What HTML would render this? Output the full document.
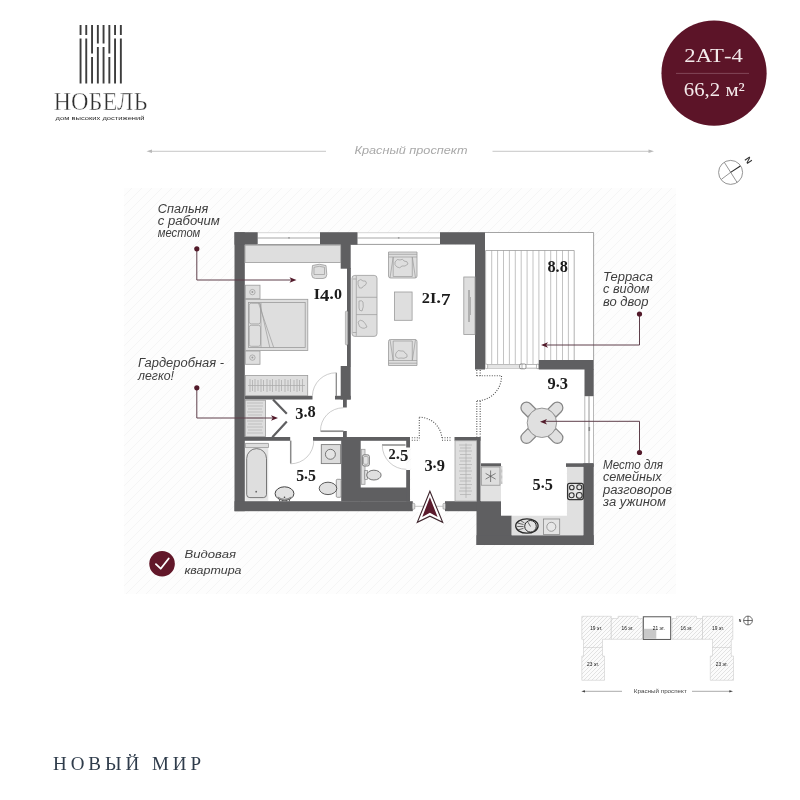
<!DOCTYPE html>
<html lang="ru">
<head>
<meta charset="utf-8">
<title>Нобель 2АТ-4</title>
<style>
html,body{margin:0;padding:0;background:#fff;}
body{width:800px;height:800px;overflow:hidden;font-family:"Liberation Sans",sans-serif;}
svg{display:block;will-change:transform;}
.sans{font-family:"Liberation Sans",sans-serif;}
.serif{font-family:"Liberation Serif",serif;}
.note{font-family:"Liberation Sans",sans-serif;font-style:italic;font-size:12px;fill:#3e3e3e;}
.lbl{font-family:"Liberation Serif",serif;font-weight:bold;font-size:16px;fill:#1c1c1c;}
.w{fill:#5f5f61;}
.f{fill:#dedede;stroke:#9b9b9b;stroke-width:0.8;}
.fl{fill:none;stroke:#9b9b9b;stroke-width:0.7;}
.arc{fill:none;stroke:#b8b8b8;stroke-width:0.7;}
.m{stroke:#5e3f4a;stroke-width:1;fill:none;}
.md{fill:#521a2a;}
</style>
</head>
<body>
<svg width="800" height="800" viewBox="0 0 800 800">
<defs>
<pattern id="hatch" width="10" height="10" patternUnits="userSpaceOnUse">
<path d="M-1 11 L11 -1 M-1 1 L1 -1 M9 11 L11 9" stroke="#f3f3f3" stroke-width="0.8" fill="none"/>
</pattern>
<pattern id="hatch2" width="4" height="4" patternUnits="userSpaceOnUse">
<rect width="4" height="4" fill="#fbfbfb"/>
<path d="M-1 5 L5 -1 M-1 1 L1 -1 M3 5 L5 3" stroke="#d4d4d4" stroke-width="0.650" fill="none"/>
</pattern>
</defs>
<rect width="800" height="800" fill="#ffffff"/>

<!-- ===== hatched site background ===== -->
<rect x="124" y="188" width="552" height="406" fill="#fdfdfd"/>
<rect x="124" y="188" width="552" height="406" fill="url(#hatch)"/>

<!-- ===== LOGO ===== -->
<g id="logo" fill="#3d3d3d">
<!-- bars 1,2,7,8 -->
<rect x="79.6" y="25" width="1.9" height="10"/><rect x="79.6" y="38.5" width="1.9" height="45"/>
<rect x="85.3" y="25" width="1.9" height="10"/><rect x="85.3" y="38.5" width="1.9" height="45"/>
<rect x="114.1" y="25" width="1.9" height="10"/><rect x="114.1" y="38.5" width="1.9" height="45"/>
<rect x="119.9" y="25" width="1.9" height="10"/><rect x="119.9" y="38.5" width="1.9" height="45"/>
<!-- bars 3,6 -->
<rect x="91.1" y="25" width="1.9" height="28.5"/><rect x="91.1" y="57" width="1.9" height="26.5"/>
<rect x="108.4" y="25" width="1.9" height="28.5"/><rect x="108.4" y="57" width="1.9" height="26.5"/>
<!-- bars 4,5 -->
<rect x="96.9" y="25" width="1.9" height="18.5"/><rect x="96.9" y="47" width="1.9" height="36.5"/>
<rect x="102.6" y="25" width="1.9" height="18.5"/><rect x="102.6" y="47" width="1.9" height="36.5"/>
</g>
<text id="t_nobel" class="serif" x="53.5" y="110" font-size="25" fill="#2e2e2e" stroke="#fff" stroke-width="0.45" textLength="94" lengthAdjust="spacingAndGlyphs">НОБЕЛЬ</text>
<text id="t_sub" class="sans" x="55.5" y="120.2" font-size="6.2" fill="#2a2a2a" textLength="89" lengthAdjust="spacingAndGlyphs">дом высоких достижений</text>

<!-- ===== BADGE ===== -->
<circle cx="714.050" cy="73.150" r="52.600" fill="#5c1428"/>
<line x1="676" y1="73.400" x2="749" y2="73.400" stroke="#8c5464" stroke-width="0.8"/>
<text id="t_b1" class="serif" x="684.300" y="62" font-size="18.800" fill="#f3e9ea" textLength="58.500" lengthAdjust="spacingAndGlyphs">2АТ-4</text>
<text id="t_b2" class="serif" x="683.800" y="95.600" font-size="18.800" fill="#f3e9ea" textLength="61" lengthAdjust="spacingAndGlyphs">66,2 м²</text>

<!-- ===== compass ===== -->
<g stroke="#7a7a7a" stroke-width="0.8" fill="none">
<circle cx="730.6" cy="172.4" r="12"/>
<line x1="721.4" y1="179.3" x2="730.6" y2="172.4"/>
<line x1="724.3" y1="162.3" x2="737.2" y2="182.6"/>
</g>
<line x1="730.6" y1="172.4" x2="740.4" y2="166" stroke="#2a2a2a" stroke-width="1.1"/>
<text class="sans" x="0" y="0" font-size="8.500" font-weight="bold" fill="#333" transform="translate(744.200,159.200) rotate(57)">N</text>

<!-- ===== street label ===== -->
<g stroke="#b9b9b9" stroke-width="0.8" fill="#b9b9b9">
<line x1="149" y1="151.3" x2="326" y2="151.3"/>
<path d="M146.5 151.3 L152 149.5 L152 153.1 Z" stroke="none"/>
<line x1="492.5" y1="151.3" x2="651" y2="151.3"/>
<path d="M654 151.3 L648.5 149.5 L648.5 153.1 Z" stroke="none"/>
</g>
<text id="t_street" class="sans" x="354.5" y="153.8" font-size="11.5" font-style="italic" fill="#a9a9a9" textLength="113" lengthAdjust="spacingAndGlyphs">Красный проспект</text>

<!-- ===== PLAN ===== -->
<g id="plan">
<!-- interior white floor -->
<path d="M245 244.7 H476 V369 H584.5 V463.5 H566.5 V516 H501.3 V501.3 H476 V440.7 H454.5 V501.3 H411.3 V440.7 H341.2 V501.3 H245 Z" fill="#ffffff"/>
<rect x="360.7" y="440.7" width="45.6" height="46.8" fill="#ffffff"/>
<!-- terrace floor -->
<rect x="485" y="232" width="108.7" height="128" fill="#ffffff"/>
<rect x="485" y="359" width="54" height="10.500" fill="#ffffff"/>
<rect x="411" y="501" width="36" height="11" fill="#fff"/>

<!-- terrace outline + planks -->
<g stroke="#7d7d7d" stroke-width="0.7" fill="none">
<path d="M485 232.500 H593.600 V360"/>
</g>
<g stroke="#a9a9a9" stroke-width="0.700" fill="none">
<path d="M491.700 250.500V364M497.600 250.500V364M503.500 250.500V364M509.400 250.500V364M515.300 250.500V364M521.200 250.500V364M527.100 250.500V364M533 250.500V364M538.900 250.500V360M544.800 250.500V360M550.700 250.500V360M556.600 250.500V360M562.500 250.500V360M568.400 250.500V360"/>
<path d="M485.600 364 V250.500 H574.200 V360" stroke="#8f8f8f"/>
</g>

<!-- windows -->
<rect x="257" y="232.500" width="64" height="12.300" fill="#fff"/><rect x="357" y="232.500" width="84" height="12.300" fill="#fff"/><rect x="584.500" y="396" width="9.200" height="67.500" fill="#fff"/>
<g stroke="#b4b4b4" stroke-width="0.700" fill="none">
<path d="M257.700 232.700H320M357.500 232.700H440" stroke="#c4c4c4"/>
<path d="M257.700 244.500H320M350.700 244.400H440" stroke="#9c9c9c" stroke-width="1"/>
<path d="M257.700 238H320M357.500 238H440" stroke-width="1.100" stroke="#a8a8a8"/>
<path d="M584.800 396.200V463M593.500 396.200V463" stroke="#9a9a9a"/>
<path d="M589 396.200V463" stroke="#8a8a8a" stroke-width="0.900"/>
<path d="M487 364.500H539M487 368.200H539" stroke="#9a9a9a"/>
</g>
<rect x="487" y="364.900" width="33" height="2.900" fill="#e4e4e4"/>
<rect x="519.600" y="364" width="6.400" height="4.800" rx="1.500" fill="#fff" stroke="#666" stroke-width="0.700"/>
<path d="M522 364V368.800" stroke="#666" stroke-width="0.500"/>
<rect x="536.500" y="364.200" width="2.500" height="4.400" rx="0.800" fill="#fff" stroke="#777" stroke-width="0.500"/>
<rect x="485.200" y="364.200" width="2.400" height="4.400" rx="1" fill="#fff" stroke="#777" stroke-width="0.500"/>
<circle cx="289" cy="237.800" r="0.900" fill="#999"/><circle cx="398.700" cy="237.800" r="0.900" fill="#999"/>

<!-- walls -->
<g class="w">
<rect x="234.5" y="232.2" width="10.3" height="279"/>
<rect x="234.5" y="232.2" width="23.2" height="12.5"/>
<rect x="320" y="232.2" width="37.5" height="12.5"/>
<rect x="340.7" y="244" width="10" height="24.7"/>
<rect x="347" y="268" width="3.8" height="98.5"/>
<rect x="340.7" y="366" width="10" height="33.5"/>
<rect x="245" y="395.8" width="67.5" height="3.7"/>
<rect x="335" y="395.8" width="15.7" height="3.7"/>
<rect x="343" y="399" width="3.8" height="8.5"/>
<rect x="343" y="431" width="3.8" height="6.5"/>
<rect x="244" y="437" width="46.200" height="3.8"/>
<rect x="313" y="437" width="97" height="3.8"/>
<rect x="341.2" y="437" width="19.5" height="64.5"/>
<rect x="360" y="487.5" width="50" height="14"/>
<rect x="406.2" y="437" width="3.8" height="10.5"/>
<rect x="406.2" y="470" width="3.8" height="31.5"/>
<rect x="234.5" y="501.2" width="178.3" height="10"/>
<rect x="440" y="232.2" width="45" height="12.3"/>
<rect x="475" y="244" width="10" height="125.5"/>
<rect x="538.7" y="360" width="55" height="9.5"/>
<rect x="584.5" y="369" width="9.2" height="27.2"/>
<rect x="454.5" y="437" width="26" height="3.8"/>
<rect x="476.5" y="437" width="4" height="64.5"/>
<rect x="445" y="501.2" width="56" height="10"/>
<rect x="476.5" y="501.2" width="24.5" height="43.8"/>
<rect x="500" y="515.7" width="11.7" height="29.3"/>
<rect x="476.5" y="535.2" width="117.2" height="9.8"/>
<rect x="583.3" y="463.3" width="10.4" height="81.7"/>
<rect x="566" y="463.3" width="27.7" height="3.6"/>
<rect x="481" y="463.3" width="20" height="3.3"/>
</g>
<!-- entrance threshold -->
<rect x="412.300" y="503.300" width="2.500" height="6" rx="1.100" fill="#ddd" stroke="#777" stroke-width="0.500"/>
<rect x="443" y="503.300" width="2.500" height="6" rx="1.100" fill="#ddd" stroke="#777" stroke-width="0.500"/>
<line x1="414.800" y1="506.300" x2="443" y2="506.300" stroke="#b5b5b5" stroke-width="0.800"/>
<!-- ===== bedroom ===== -->
<rect class="f" x="245" y="245.200" width="95.7" height="17.300"/>
<!-- desk chair -->
<path class="f" d="M312.5 265.5 Q319.2 263 326 265.5 L326.8 274.5 Q326.8 278.5 323 278.5 H315.5 Q311.7 278.5 311.7 274.5 Z"/>
<path class="fl" d="M314 267.3 Q319.2 265.3 324.5 267.3 V274.5 H314 Z"/>
<!-- nightstands -->
<rect class="f" x="245.3" y="285.2" width="14.7" height="13.5"/>
<rect class="f" x="245.3" y="351" width="14.7" height="13.3"/>
<circle class="fl" cx="252.4" cy="292.1" r="2.7"/><circle cx="252.4" cy="292.1" r="1" fill="#9b9b9b"/>
<circle class="fl" cx="252.4" cy="357.6" r="2.7"/><circle cx="252.4" cy="357.6" r="1" fill="#9b9b9b"/>
<!-- bed -->
<rect class="f" x="245.3" y="299.3" width="62.5" height="51.3" fill="#e3e3e3"/>
<rect class="f" x="248.4" y="302.5" width="56.8" height="45" fill="#dbdbdb"/>
<rect class="fl" x="249.2" y="303.3" width="11.3" height="20.6" rx="2"/>
<rect class="fl" x="249.2" y="325.3" width="11.3" height="21" rx="2"/>
<path class="fl" d="M258.5 303 L273.7 347.5 M259.8 303 L269.8 347.5 M261 303V347.5"/>
<!-- wardrobe -->
<rect class="f" x="245.3" y="375.4" width="62.4" height="20.3"/>
<g stroke="#a8a8a8" stroke-width="0.7" fill="none">
<path d="M248 385.5H305"/>
<path d="M250 379v13M252.5 380v11M255 379v13M258 380v11M261 379v13M263.5 380v11M267 379v13M270 380v11M272.5 379v13M276 380v11M279 379v13M281.5 380v11M285 379v13M288 380v11M290.5 379v13M294 380v11M297 379v13M299.5 380v11M302.5 379v13"/>
</g>
<!-- bedroom door -->
<path d="M336.3 372.8V396" stroke="#8a8a8a" stroke-width="1.3" fill="none"/>
<path d="M312.4 395.8 A23.6 23.6 0 0 1 336.3 372.8" class="arc"/>
<!-- sliding element on wall -->
<rect x="345.4" y="311" width="2.4" height="34" rx="1.2" fill="#cfcfcf" stroke="#8a8a8a" stroke-width="0.5"/>

<!-- ===== dressing 3.8 ===== -->
<rect class="f" x="245.3" y="400.2" width="20.2" height="36.4"/>
<g stroke="#a8a8a8" stroke-width="0.6" fill="none">
<path d="M247 403h16M247 406h16M248 409h14M247 412h16M248 415h14M247 418h16M247 421h16M248 424h14M247 427h16M248 430h14M247 433h16"/>
</g>
<path d="M273 399.4L286.8 413.8M286.8 421.4L272.3 437.2" stroke="#5f5f61" stroke-width="2.200" fill="none"/>
<path d="M320.5 431.2H343.5" stroke="#8f8f8f" stroke-width="1.700" fill="none"/>
<path d="M320.5 431 A22.8 22.8 0 0 1 343.2 407.8" class="arc"/>

<!-- ===== bathroom 5.5 ===== -->
<rect x="245.3" y="442.6" width="23" height="58.2" fill="#e6e6e6"/>
<rect class="f" x="245.3" y="443.6" width="23.2" height="3.8"/>
<path d="M246.7 458.5 A9.9 9.9 0 0 1 266.5 458.5 V494.5 Q266.5 497.6 263.4 497.6 H249.8 Q246.7 497.6 246.7 494.5 Z" fill="#dedede" stroke="#5c5c5c" stroke-width="0.8"/>
<circle cx="256.2" cy="491.7" r="0.9" fill="#666"/>
<path d="M290.7 440.6V463.6" stroke="#8a8a8a" stroke-width="1.5" fill="none"/>
<path d="M290.7 463.8 A23.2 23.2 0 0 0 313.8 440.6" class="arc"/>
<rect x="321.3" y="444.6" width="19.3" height="19" fill="#dcdcdc" stroke="#7d7d7d" stroke-width="0.9"/>
<circle cx="330.4" cy="454.3" r="5" fill="#e4e4e4" stroke="#5c5c5c" stroke-width="0.8"/>
<rect x="336.3" y="479.3" width="4.8" height="18" rx="1" fill="#e4e4e4" stroke="#777" stroke-width="0.7"/>
<ellipse cx="328" cy="488.400" rx="8.800" ry="6.200" fill="#e0e0e0" stroke="#4a4a4a" stroke-width="0.900"/>
<ellipse cx="284.5" cy="493.6" rx="9.4" ry="6.8" fill="#e2e2e2" stroke="#444" stroke-width="1"/>
<path d="M277.8 497 Q284.5 501.5 291.3 497" fill="none" stroke="#555" stroke-width="0.7"/>
<circle cx="284.5" cy="497.3" r="0.8" fill="#444"/>
<path d="M279.5 499.6v1.6M282.5 500.2v1M286.5 500.2v1M289.5 499.6v1.6" stroke="#444" stroke-width="0.8"/>

<!-- ===== WC 2.5 ===== -->
<rect class="f" x="361.3" y="449.3" width="3.7" height="35"/>
<rect x="362.4" y="454.8" width="7" height="11.2" rx="1.8" fill="#e2e2e2" stroke="#666" stroke-width="0.8"/>
<rect x="363.5" y="456.5" width="4.6" height="7.8" rx="1.2" fill="none" stroke="#8a8a8a" stroke-width="0.6"/>
<rect x="364.8" y="470.6" width="2.6" height="9" fill="#e2e2e2" stroke="#777" stroke-width="0.6"/>
<ellipse cx="373.9" cy="475.1" rx="7.2" ry="4.9" fill="#e0e0e0" stroke="#555" stroke-width="0.8"/>
<path d="M382 445H405.5" stroke="#8a8a8a" stroke-width="1.5" fill="none"/>
<path d="M382.3 445.5 A24 24 0 0 0 406.4 469.3" class="arc"/>

<!-- ===== hall closet ===== -->
<rect x="455" y="440.8" width="21.7" height="60.3" fill="#dedede" stroke="#9b9b9b" stroke-width="0.7"/>
<g stroke="#b0b0b0" stroke-width="0.7" fill="none">
<path d="M466 443.5V498"/>
<path d="M459 445h13M460 448h11M459 451h13M460 454.500h11M459 458h13M460 461h11M459 464.500h13M460 468h11M459 471h13M460 474.500h11M459 478h13M460 481h11M459 484.500h13M460 488h11M459 491h13M460 494.500h11"/>
</g>

<!-- ===== living room ===== -->
<!-- sofa -->
<rect class="f" x="352" y="275.4" width="25" height="61" rx="2.8"/>
<path class="fl" d="M356.3 276V335.8M356.3 297.3H377M356.3 314.6H377M352.8 279H356.3M352.8 332.5H356.3"/>
<path class="fl" d="M358 281 q3 -3 5 0 q3 -1 3.500 2 q-1 3 -3 3 q-1 3 -4 2 q-2 -3 -1.500 -7z M359 301 q3 -1 4 1 q1 5 -1 9 q-3 0 -3 -3z M358 322 q2 -3 5 -1 q3 3 4 6 q-3 2 -5 1 q-3 0 -4 -6z"/>
<!-- armchair top -->
<path class="f" d="M388.500 252 H417 V276 Q417 278 415 278 H390.500 Q388.500 278 388.500 276 Z"/>
<path class="fl" d="M388.500 254.300H417M393.200 257 V276.500 H412.300 V257 M388.500 257 H417 M393.200 257 L390 278 M412.300 257 L415.500 278"/>
<path class="fl" d="M395 262 q2 -4 5 -2 q3 -2 4 1 q4 0 4 3 q-3 3 -6 2 q-2 3 -5 1 q-3 -2 -2 -5z"/>
<!-- coffee table -->
<rect class="f" x="394.500" y="292" width="17.600" height="28.300"/>
<!-- armchair bottom -->
<path class="f" d="M388.500 365.500 H417 V341.500 Q417 339.500 415 339.500 H390.500 Q388.500 339.500 388.500 341.500 Z"/>
<path class="fl" d="M388.500 363.200H417M393.200 360.500 V341 H412.300 V360.500 M388.500 360.500 H417 M393.200 360.500 L390 339.500 M412.300 360.500 L415.500 339.500"/>
<path class="fl" d="M396 353 q2 -4 5 -2 q3 -1 4 2 q3 1 2 4 q-3 2 -6 1 q-3 1 -5 -1 q-1 -2 0 -4z"/>
<!-- TV unit -->
<rect class="f" x="463.800" y="277" width="11.200" height="57.500"/>
<path d="M469 290V322" stroke="#8a8a8a" stroke-width="1.100" fill="none"/>
<path class="fl" d="M470.500 297V315"/>

<!-- ===== dining ===== -->
<g fill="#e0e0e0" stroke="#858585" stroke-width="1.250">
<path transform="translate(527.6 408.800) rotate(-45)" d="M-5.600 6 V-1.500 A5.600 5.600 0 0 1 5.600 -1.500 V6 Z"/>
<path transform="translate(556.200 408.800) rotate(45)" d="M-5.600 6 V-1.500 A5.600 5.600 0 0 1 5.600 -1.500 V6 Z"/>
<path transform="translate(527.600 436.800) rotate(-135)" d="M-5.600 6 V-1.500 A5.600 5.600 0 0 1 5.600 -1.500 V6 Z"/>
<path transform="translate(556.200 436.800) rotate(135)" d="M-5.600 6 V-1.500 A5.600 5.600 0 0 1 5.600 -1.500 V6 Z"/>
<circle cx="541.900" cy="422.800" r="14.700" fill="#e0e0e0" stroke="#8f8f8f" stroke-width="0.9"/>
</g>

<!-- ===== kitchen ===== -->
<rect x="481" y="466.600" width="20" height="34.700" fill="#e2e2e2"/>
<rect x="481.300" y="467" width="18.700" height="18.200" fill="#dedede" stroke="#8a8a8a" stroke-width="0.7"/>
<path d="M490.600 470.500V482M485.600 473.400L495.600 479.100M485.600 479.100L495.600 473.400" stroke="#555" stroke-width="0.7" fill="none"/>
<path d="M501.800 466.500V484.500" stroke="#666" stroke-width="0.9" stroke-dasharray="0.600 0.600" fill="none"/>
<path d="M511.700 515.800 H567 V467 H583.300 V535.300 H511.700 Z" fill="#e0e0e0"/>
<rect x="567.600" y="483.300" width="15.700" height="16.300" rx="2" fill="#e6e6e6" stroke="#333" stroke-width="1.300"/>
<g fill="#e6e6e6" stroke="#333" stroke-width="1.100">
<circle cx="571.800" cy="487.500" r="2.300"/><circle cx="579.300" cy="487.300" r="2.500"/>
<circle cx="571.600" cy="495.300" r="2.500"/><circle cx="579.300" cy="495.400" r="2.900"/>
</g>
<ellipse cx="526.900" cy="526" rx="11.200" ry="7.200" fill="#e0e0e0" stroke="#2a2a2a" stroke-width="1.300"/>
<circle cx="530.500" cy="526.300" r="5.800" fill="#e4e4e4" stroke="#2a2a2a" stroke-width="1"/>
<path d="M517.500 523L523.500 524.500M517.200 526.500H523.500M518 530L523.500 528.300M520.500 520.500L524.500 523M527.500 521.500 L530.500 526.500" stroke="#333" stroke-width="0.7" fill="none"/>
<rect x="543.500" y="519" width="16.200" height="15.600" fill="#e4e4e4" stroke="#8a8a8a" stroke-width="0.8"/>
<circle cx="551.300" cy="526.800" r="4.500" fill="#e8e8e8" stroke="#8a8a8a" stroke-width="0.8"/>

<!-- ===== dotted swing doors ===== -->
<g stroke="#505050" stroke-width="1.100" stroke-dasharray="1 1.500" fill="none">
<path d="M476.800 370V376M480.200 370V376M476.800 375.800H501"/>
<path d="M501.500 376 A24.500 24.500 0 0 1 477 400.800"/>
<path d="M476.800 401V436.500M480.200 401V436.500"/>
<path d="M419.300 417.500V439.500M411.800 437.800H419.500M411.800 440.200H419.500"/>
<path d="M419.300 417.300 A22.500 22.500 0 0 1 442 439.500"/>
<path d="M442 437.800H451M442 440.200H451"/>
</g>
<path d="M589.300 427v4" stroke="#8a8a8a" stroke-width="1.600"/>

<!-- ===== room labels ===== -->
<text id="l1" class="lbl" x="313.7" y="298.9" textLength="28.3" lengthAdjust="spacingAndGlyphs"><tspan y="298.9" font-size="14.4">I</tspan><tspan y="301.1" font-size="16.8">4</tspan><tspan y="298.9" font-size="16.8">.</tspan><tspan y="298.9" font-size="14.4">0</tspan></text>
<text id="l2" class="lbl" x="421.8" y="302.5" textLength="28.8" lengthAdjust="spacingAndGlyphs"><tspan y="302.5" font-size="14.4">2</tspan><tspan y="302.5" font-size="14.4">I</tspan><tspan y="302.5" font-size="16.8">.</tspan><tspan y="304.7" font-size="16.8">7</tspan></text>
<text id="l3" class="lbl" x="547.5" y="272" textLength="20.3" lengthAdjust="spacingAndGlyphs"><tspan y="272" font-size="16.8">8</tspan><tspan y="272" font-size="16.8">.</tspan><tspan y="272" font-size="16.8">8</tspan></text>
<text id="l4" class="lbl" x="547.5" y="386.6" textLength="20.5" lengthAdjust="spacingAndGlyphs"><tspan y="388.8" font-size="16.8">9</tspan><tspan y="386.6" font-size="16.8">.</tspan><tspan y="388.8" font-size="16.8">3</tspan></text>
<text id="l5" class="lbl" x="295.2" y="416.6" textLength="20.5" lengthAdjust="spacingAndGlyphs"><tspan y="418.8" font-size="16.8">3</tspan><tspan y="416.6" font-size="16.8">.</tspan><tspan y="416.6" font-size="16.8">8</tspan></text>
<text id="l6" class="lbl" x="296.2" y="479" textLength="19.8" lengthAdjust="spacingAndGlyphs"><tspan y="481.2" font-size="16.8">5</tspan><tspan y="479" font-size="16.8">.</tspan><tspan y="481.2" font-size="16.8">5</tspan></text>
<text id="l7" class="lbl" x="388.6" y="459" textLength="19.8" lengthAdjust="spacingAndGlyphs"><tspan y="459" font-size="14.4">2</tspan><tspan y="459" font-size="16.8">.</tspan><tspan y="461.2" font-size="16.8">5</tspan></text>
<text id="l8" class="lbl" x="424.4" y="468.4" textLength="20.5" lengthAdjust="spacingAndGlyphs"><tspan y="470.6" font-size="16.8">3</tspan><tspan y="468.4" font-size="16.8">.</tspan><tspan y="470.6" font-size="16.8">9</tspan></text>
<text id="l9" class="lbl" x="532.6" y="487.8" textLength="20.3" lengthAdjust="spacingAndGlyphs"><tspan y="490.0" font-size="16.8">5</tspan><tspan y="487.8" font-size="16.8">.</tspan><tspan y="490.0" font-size="16.8">5</tspan></text>

<!-- ===== entrance arrow ===== -->
<path d="M429.900 491.300 L442.700 522.300 L429.900 516.200 L417.300 522.300 Z" fill="#fff" stroke="#3f262e" stroke-width="1.100" stroke-linejoin="miter"/>
<path d="M429.900 497.200 L437.600 517 L429.900 512.800 L422.200 517 Z" fill="#5a1a2c"/>
</g>


<!-- ===== annotations ===== -->
<g class="note">
<text id="n1a" x="157.800" y="212.500" textLength="50.500" lengthAdjust="spacingAndGlyphs">Спальня</text>
<text id="n1b" x="157.800" y="224.600" textLength="62" lengthAdjust="spacingAndGlyphs">с рабочим</text>
<text id="n1c" x="157.800" y="236.600" textLength="42.500" lengthAdjust="spacingAndGlyphs">местом</text>
<text id="n2a" x="138" y="367" textLength="86" lengthAdjust="spacingAndGlyphs">Гардеробная -</text>
<text id="n2b" x="138" y="379.800" textLength="36" lengthAdjust="spacingAndGlyphs">легко!</text>
<text id="n3a" x="603" y="281.200" textLength="50" lengthAdjust="spacingAndGlyphs">Терраса</text>
<text id="n3b" x="603" y="293.300" textLength="46.500" lengthAdjust="spacingAndGlyphs">с видом</text>
<text id="n3c" x="603" y="305.600" textLength="45.500" lengthAdjust="spacingAndGlyphs">во двор</text>
<text id="n4a" x="603" y="469.200" textLength="60" lengthAdjust="spacingAndGlyphs">Место для</text>
<text id="n4b" x="603" y="481.300" textLength="58.500" lengthAdjust="spacingAndGlyphs">семейных</text>
<text id="n4c" x="603" y="493.700" textLength="69" lengthAdjust="spacingAndGlyphs">разговоров</text>
<text id="n4d" x="603" y="505.600" textLength="63" lengthAdjust="spacingAndGlyphs">за ужином</text>
<text id="n5a" x="184.500" y="558" textLength="51.500" lengthAdjust="spacingAndGlyphs" font-size="11.500">Видовая</text>
<text id="n5b" x="184.500" y="574" textLength="57" lengthAdjust="spacingAndGlyphs" font-size="11.500">квартира</text>
</g>
<!-- leader lines -->
<g class="m">
<path d="M196.800 248.800V280H292"/>
<path d="M196.800 387.800V418H274"/>
<path d="M639.500 314V345H545"/>
<path d="M639.500 452.500V421.300H545"/>
</g>
<g class="md">
<circle cx="196.800" cy="248.800" r="2.600"/>
<circle cx="196.800" cy="387.800" r="2.600"/>
<circle cx="639.500" cy="314" r="2.600"/>
<circle cx="639.500" cy="452.500" r="2.600"/>
<path d="M296.500 280 L289.500 277.200 L291.300 280 L289.500 282.800 Z"/>
<path d="M278 418 L271 415.200 L272.800 418 L271 420.800 Z"/>
<path d="M541 345 L548 342.200 L546.200 345 L548 347.800 Z"/>
<path d="M540 421.800 L547 419 L545.200 421.800 L547 424.600 Z"/>
</g>
<!-- check badge -->
<circle cx="162.050" cy="563.800" r="12.800" fill="#621729"/>
<path d="M155.900 564.100 L160.700 568.700 L168.700 558.500" stroke="#fff" stroke-width="1.800" fill="none" stroke-linecap="round" stroke-linejoin="round"/>


<!-- ===== mini site plan ===== -->
<g id="mini">
<g fill="url(#hatch2)" stroke="#c4c4c4" stroke-width="0.500">
<path d="M581.800 616.300 H611.300 V639.300 H602.500 V656 H604.500 V680.300 H581.800 V656 H583.500 V639.300 H581.800 Z"/>
<path d="M583.500 647.500H602.500" fill="none"/>
<path d="M611.300 618.500 H618 V616.300 H638 V618.500 H642.500 V639.300 H611.300 Z"/>
<path d="M672 618.500 H676.500 V616.300 H696.500 V618.500 H702.500 V639.300 H672 Z"/>
<path d="M702.500 616.300 H732.800 V639.300 H731.300 V656 H733.500 V680.300 H710.300 V656 H712.500 V639.300 H702.500 Z"/>
<path d="M712.500 647.500H731.300" fill="none"/>
</g>
<rect x="643.300" y="616.800" width="27.400" height="22.600" fill="#fff" stroke="#444" stroke-width="0.900"/>
<rect x="643.800" y="628.800" width="12.500" height="10" fill="#c9c9c9"/>
<g class="sans" font-size="4.800" fill="#111" text-anchor="middle">
<text x="596.200" y="630.300">19 эт.</text>
<text x="627.500" y="630.300">16 эт.</text>
<text x="658.800" y="630.300">21 эт.</text>
<text x="686.500" y="630.300">16 эт.</text>
<text x="718" y="630.300">19 эт.</text>
<text x="593" y="665.500">23 эт.</text>
<text x="721.800" y="665.500">23 эт.</text>
</g>
<g stroke="#555" stroke-width="0.500" fill="#444">
<line x1="583" y1="691.300" x2="622" y2="691.300"/>
<line x1="692" y1="691.300" x2="731" y2="691.300"/>
<path d="M581.300 691.300 L585 690.200 L585 692.400 Z" stroke="none"/>
<path d="M733 691.300 L729.300 690.200 L729.300 692.400 Z" stroke="none"/>
</g>
<text class="sans" x="633.800" y="693" font-size="5" fill="#444" textLength="53" lengthAdjust="spacingAndGlyphs">Красный проспект</text>
<g stroke="#333" stroke-width="0.700" fill="none">
<circle cx="748" cy="620.500" r="4.400"/>
<path d="M743.600 620.500H752.400M748 616.100V624.900"/>
</g>
<text class="sans" x="738.800" y="621.500" font-size="3.500" font-weight="bold" fill="#333">N</text>
</g>


<!-- ===== footer ===== -->
<text id="t_foot" class="serif" x="53" y="770" font-size="19" fill="#2f3c4b" textLength="148" lengthAdjust="spacing">НОВЫЙ МИР</text>
</svg>
</body>
</html>
